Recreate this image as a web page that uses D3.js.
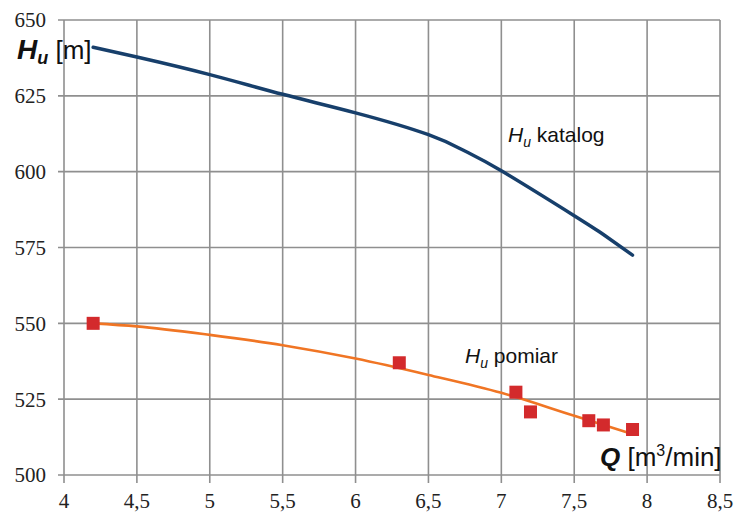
<!DOCTYPE html>
<html>
<head>
<meta charset="utf-8">
<script src="https://cdn.jsdelivr.net/npm/d3@7"></script>
<style>
  body { margin: 0; background: #fff; }
  svg { display: block; }
</style>
</head>
<body>
<div id="chart"></div>
<script>
// catalogue curve H_u(Q)
const katalogQ = [4.2, 4.5, 5, 5.5, 6, 6.5, 6.75, 7, 7.5, 7.7, 7.9]
const katalogH = [641, 637.8, 632, 625.5, 619.4, 612.2, 606.8, 600.3, 585.5, 579.3, 572.5]

// measured points
const pomiarQ = [4.2, 6.3, 7.1, 7.2, 7.6, 7.7, 7.9]
const pomiarH = [550, 537, 527.3, 520.8, 517.9, 516.5, 515]

// trend line through the measurements
const trendQ = [4.2, 4.5, 5, 5.5, 6, 6.5, 7, 7.5, 7.9]
const trendH = [550, 549, 546.2, 542.8, 538.4, 533, 527.1, 519.5, 513.5]

const xTicks = [4, 4.5, 5, 5.5, 6, 6.5, 7, 7.5, 8, 8.5]
const yTicks = [500, 525, 550, 575, 600, 625, 650]

const width = 736, height = 512
const margin = { top: 20, right: 16, bottom: 37, left: 64 }
const serif = "'Liberation Serif', 'Times New Roman', 'DejaVu Serif', serif"
const sans = "'Liberation Sans', Arial, sans-serif"

const svg = d3.select('#chart')
  .append('svg')
  .attr('width', width)
  .attr('height', height)

const x = d3.scaleLinear().domain([4, 8.5]).range([margin.left, width - margin.right])
const y = d3.scaleLinear().domain([500, 650]).range([height - margin.bottom, margin.top])

const fmt = d => String(d).replace('.', ',')

// grid
const grid = svg.append('g').attr('stroke', '#8f8f8f').attr('stroke-width', 1.6)
grid.selectAll('line.v')
  .data(xTicks)
  .join('line')
  .attr('class', 'v')
  .attr('x1', d => x(d)).attr('x2', d => x(d))
  .attr('y1', y(650)).attr('y2', y(500) + 8)
grid.selectAll('line.h')
  .data(yTicks)
  .join('line')
  .attr('class', 'h')
  .attr('x1', x(4) - 6).attr('x2', x(8.5))
  .attr('y1', d => y(d)).attr('y2', d => y(d))

// tick labels
svg.append('g')
  .attr('font-family', serif)
  .attr('font-size', 21)
  .attr('fill', '#222')
  .selectAll('text')
  .data(yTicks)
  .join('text')
  .attr('x', x(4) - 18)
  .attr('y', d => y(d))
  .attr('dy', '0.35em')
  .attr('text-anchor', 'end')
  .text(d => d)

svg.append('g')
  .attr('font-family', serif)
  .attr('font-size', 21)
  .attr('fill', '#222')
  .selectAll('text')
  .data(xTicks)
  .join('text')
  .attr('x', d => x(d))
  .attr('y', y(500) + 33)
  .attr('text-anchor', 'middle')
  .text(fmt)

const line = d3.line()
  .x(d => x(d[0]))
  .y(d => y(d[1]))

// catalogue curve
svg.append('path')
  .datum(d3.zip(katalogQ, katalogH))
  .attr('d', line.curve(d3.curveNatural))
  .attr('fill', 'none')
  .attr('stroke', '#173f6b')
  .attr('stroke-width', 3.5)
  .attr('stroke-linecap', 'round')

// trend line
svg.append('path')
  .datum(d3.zip(trendQ, trendH))
  .attr('d', line.curve(d3.curveMonotoneX))
  .attr('fill', 'none')
  .attr('stroke', '#f07524')
  .attr('stroke-width', 2.6)

// measured points
const sq = 13
svg.append('g')
  .selectAll('rect')
  .data(d3.zip(pomiarQ, pomiarH))
  .join('rect')
  .attr('x', d => x(d[0]) - sq / 2)
  .attr('y', d => y(d[1]) - sq / 2)
  .attr('width', sq)
  .attr('height', sq)
  .attr('fill', '#d32a2c')

// axis titles and curve labels
const hu = svg.append('text').attr('font-family', sans).attr('fill', '#111')
  .attr('x', 17).attr('y', 59).attr('font-size', 26)
hu.append('tspan').attr('font-weight', 'bold').attr('font-style', 'italic').attr('font-size', 28).text('H')
hu.append('tspan').attr('font-weight', 'bold').attr('font-style', 'italic').attr('font-size', 18).attr('dy', 5).text('u')
hu.append('tspan').attr('dy', -5).text(' [m]')

const q = svg.append('text').attr('font-family', sans).attr('fill', '#111')
  .attr('x', 600).attr('y', 466).attr('font-size', 26)
q.append('tspan').attr('font-weight', 'bold').attr('font-style', 'italic').text('Q')
q.append('tspan').text(' [m')
q.append('tspan').attr('font-size', 16).attr('dy', -10).text('3')
q.append('tspan').attr('dy', 10).text('/min]')

function curveLabel(px, py, word) {
  const t = svg.append('text').attr('font-family', sans).attr('fill', '#111')
    .attr('x', px).attr('y', py).attr('font-size', 21)
  t.append('tspan').attr('font-style', 'italic').text('H')
  t.append('tspan').attr('font-style', 'italic').attr('font-size', 14).attr('dy', 5).text('u')
  t.append('tspan').attr('dy', -5).text(' ' + word)
}
curveLabel(508, 142, 'katalog')
curveLabel(465, 363, 'pomiar')
</script>
</body>
</html>
